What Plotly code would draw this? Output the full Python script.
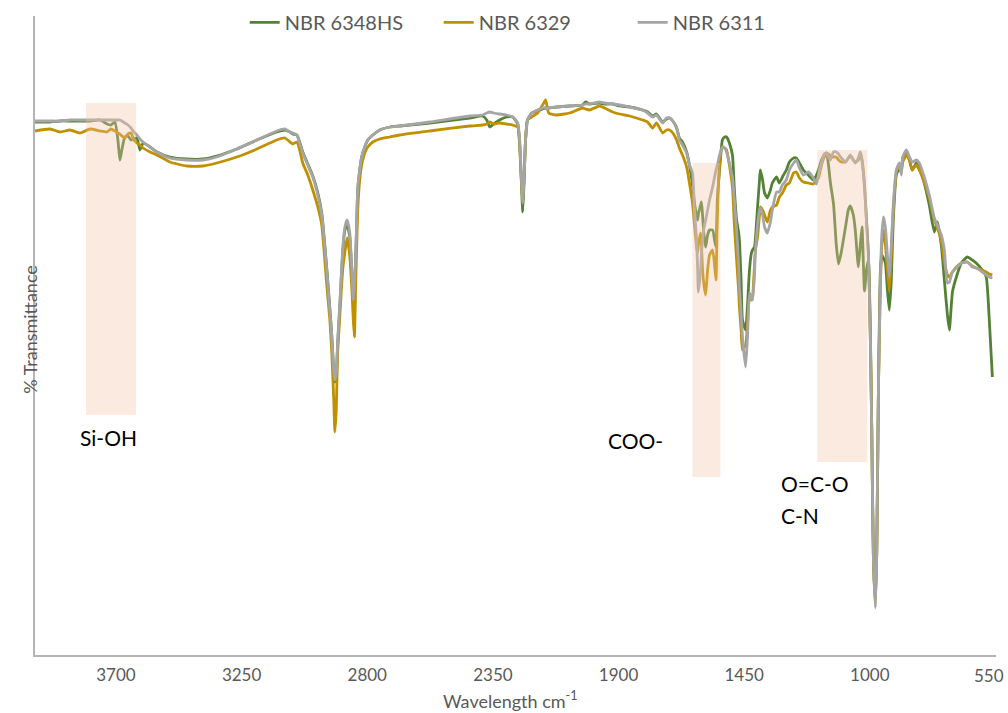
import plotly.graph_objects as go

# Wavenumber grid (cm-1), shared by the three spectra
wavenumber = [
    3990, 3936, 3900, 3865, 3829, 3793, 3757, 3732, 3718, 3704,
    3693, 3686, 3679, 3668, 3657, 3646, 3636, 3625, 3614, 3603,
    3578, 3553, 3507, 3446, 3389, 3339, 3267, 3195, 3124, 3095,
    3077, 3067, 3052, 3042, 3031, 3013, 2995, 2977, 2963, 2945,
    2934, 2927, 2920, 2916, 2911, 2906, 2898, 2888, 2880, 2872,
    2863, 2855, 2850, 2846, 2841, 2834, 2827, 2820, 2809, 2798,
    2780, 2755, 2719, 2684, 2576, 2433, 2387, 2372, 2361, 2347,
    2326, 2301, 2279, 2261, 2254, 2249, 2243, 2238, 2233, 2226,
    2211, 2190, 2172, 2161, 2150, 2122, 2075, 2029, 2018, 2004,
    1968, 1950, 1921, 1896, 1860, 1814, 1796, 1778, 1764, 1742,
    1728, 1717, 1703, 1692, 1682, 1671, 1656, 1646, 1635, 1628,
    1621, 1617, 1614, 1606, 1603, 1599, 1594, 1588, 1581, 1574,
    1563, 1556, 1551, 1546, 1538, 1528, 1520, 1513, 1503, 1492,
    1485, 1477, 1470, 1467, 1461, 1456, 1445, 1438, 1431, 1424,
    1420, 1413, 1410, 1402, 1395, 1392, 1384, 1377, 1367, 1356,
    1349, 1334, 1324, 1313, 1299, 1288, 1273, 1263, 1252, 1238,
    1220, 1202, 1191, 1184, 1173, 1163, 1155, 1148, 1141, 1130,
    1120, 1112, 1102, 1087, 1077, 1070, 1059, 1052, 1041, 1034,
    1028, 1019, 1012, 1005, 998, 993, 987, 980, 975, 969,
    962, 957, 951, 944, 937, 930, 923, 916, 905, 894,
    887, 882, 869, 858, 848, 833, 823, 805, 787, 769,
    758, 744, 733, 722, 715, 704, 690, 672, 651, 633,
    619, 597, 583, 572, 561,
]

# % transmittance, NBR 6348HS
t_6348hs = [
    53.3, 53.3, 53.4, 53.4, 53.4, 53.4, 53.5, 53.1, 53.0, 53.3,
    51.5, 49.5, 50.5, 51.8, 51.9, 51.5, 51.6, 51.7, 50.5, 51.2,
    50.8, 50.3, 49.8, 49.6, 49.6, 49.9, 50.6, 51.5, 52.3, 52.5,
    52.3, 52.1, 52.0, 51.3, 50.3, 49.1, 47.9, 46.2, 44.2, 38.7,
    34.7, 32.0, 28.3, 27.3, 28.0, 31.0, 35.0, 40.3, 42.5, 43.0,
    41.9, 38.0, 35.2, 36.5, 40.0, 46.5, 48.5, 49.8, 50.8, 51.5,
    52.0, 52.5, 52.8, 52.9, 53.2, 53.7, 53.9, 53.5, 52.8, 53.1,
    53.5, 53.8, 53.8, 53.1, 51.0, 48.0, 44.3, 47.5, 51.5, 53.5,
    54.2, 54.4, 54.6, 54.7, 54.7, 54.8, 54.9, 55.0, 55.3, 55.1,
    55.2, 55.1, 55.1, 54.9, 54.8, 54.5, 54.3, 53.9, 54.1, 53.3,
    53.6, 53.7, 53.3, 52.7, 51.7, 51.3, 50.3, 49.0, 47.0, 45.2,
    44.0, 43.5, 44.1, 45.0, 45.3, 44.0, 42.0, 40.8, 42.0, 42.5,
    42.5, 41.5, 40.8, 45.5, 48.5, 51.5, 51.8, 51.8, 51.2, 50.0,
    46.5, 43.5, 42.3, 41.5, 37.5, 33.5, 32.5, 35.0, 38.5, 40.2,
    40.5, 40.8, 41.5, 44.8, 47.5, 48.5, 47.5, 46.2, 45.7, 46.5,
    47.2, 47.8, 47.2, 47.8, 48.5, 49.3, 49.7, 49.7, 49.2, 48.5,
    48.0, 47.5, 48.0, 48.5, 49.5, 50.0, 50.2, 49.0, 47.2, 45.1,
    41.0, 39.1, 40.3, 42.8, 44.5, 44.9, 44.0, 42.5, 38.8, 41.0,
    42.8, 36.4, 38.5, 39.5, 32.5, 22.5, 9.5, 5.5, 10.5, 26.8,
    38.5, 40.0, 39.7, 39.2, 36.5, 34.5, 37.5, 43.5, 48.0, 48.7,
    48.3, 49.7, 50.2, 49.5, 48.5, 49.2, 48.7, 47.2, 45.0, 42.3,
    43.3, 41.0, 37.5, 34.0, 32.5, 36.3, 37.8, 39.2, 39.8, 39.5,
    39.2, 38.5, 37.8, 33.5, 27.8,
]

# % transmittance, NBR 6329
t_6329 = [
    52.4, 52.6, 52.3, 52.5, 52.2, 52.6, 52.4, 52.3, 52.6, 52.4,
    52.2, 52.1, 51.9, 51.7, 52.1, 52.2, 51.5, 51.2, 51.0, 50.7,
    50.3, 50.0, 49.3, 48.9, 48.9, 49.2, 49.8, 50.6, 51.5, 51.7,
    51.3, 51.1, 51.3, 50.5, 49.2, 48.0, 46.5, 44.8, 43.0, 37.0,
    33.5, 30.2, 25.5, 22.3, 24.5, 30.2, 34.0, 38.5, 40.3, 41.7,
    40.0, 36.5, 33.5, 31.8, 37.5, 44.5, 47.5, 49.0, 50.2, 50.8,
    51.3, 51.6, 51.8, 52.0, 52.4, 52.9, 53.0, 53.1, 53.3, 53.1,
    53.2, 53.1, 53.0, 52.8, 51.0, 48.0, 45.2, 48.0, 51.5, 53.5,
    53.8, 54.2, 55.0, 55.5, 54.2, 54.0, 54.2, 54.7, 54.6, 54.5,
    54.9, 54.7, 54.3, 54.1, 53.9, 53.5, 53.3, 52.7, 53.2, 52.2,
    52.5, 52.5, 52.1, 51.5, 50.7, 50.0, 48.8, 47.2, 45.2, 43.0,
    41.0, 40.2, 41.0, 42.2, 41.0, 38.5, 37.0, 36.0, 38.5, 40.0,
    40.5, 39.0, 37.5, 44.0, 49.2, 50.8, 50.7, 50.5, 49.0, 46.8,
    43.0, 39.5, 36.5, 34.8, 32.5, 30.5, 31.0, 33.0, 35.8, 35.5,
    35.8, 39.0, 40.5, 41.8, 44.0, 44.8, 44.5, 44.0, 43.3, 44.5,
    44.8, 45.0, 45.8, 46.2, 47.0, 47.2, 48.2, 48.3, 47.7, 47.3,
    47.2, 47.1, 47.5, 47.7, 49.0, 49.8, 50.0, 50.1, 49.9, 49.8,
    49.8, 49.5, 49.3, 49.3, 49.7, 49.9, 49.5, 49.3, 49.5, 50.2,
    49.5, 47.0, 43.5, 40.1, 31.5, 22.5, 9.5, 5.0, 10.5, 26.8,
    37.0, 41.0, 42.5, 41.0, 38.5, 36.5, 40.0, 44.5, 48.3, 49.0,
    48.7, 49.3, 50.0, 49.5, 48.5, 49.0, 48.5, 47.3, 45.7, 43.5,
    42.7, 41.5, 39.3, 38.0, 37.8, 38.3, 38.8, 39.2, 39.3, 38.9,
    38.7, 38.5, 38.3, 38.1, 38.0,
]

# % transmittance, NBR 6311
t_6311 = [
    53.4, 53.4, 53.4, 53.5, 53.5, 53.5, 53.5, 53.5, 53.5, 53.5,
    53.5, 53.5, 53.4, 53.2, 53.0, 52.7, 52.3, 52.0, 51.6, 51.3,
    50.8, 50.3, 49.7, 49.5, 49.5, 49.8, 50.6, 51.5, 52.4, 52.6,
    52.3, 52.2, 52.0, 51.2, 50.2, 49.0, 47.8, 46.0, 44.0, 38.5,
    34.5, 31.8, 28.5, 27.5, 28.3, 31.5, 35.2, 40.5, 42.8, 43.5,
    42.3, 38.5, 35.5, 37.0, 40.2, 46.8, 48.5, 49.8, 50.8, 51.5,
    52.0, 52.5, 52.8, 52.9, 53.3, 53.9, 54.0, 54.2, 54.3, 54.2,
    54.1, 54.0, 53.8, 53.2, 51.5, 48.5, 45.2, 48.0, 51.5, 53.5,
    54.2, 54.5, 54.7, 54.7, 54.7, 54.8, 54.9, 55.0, 55.1, 55.1,
    55.3, 55.2, 55.1, 55.0, 54.8, 54.5, 54.2, 53.8, 54.0, 53.2,
    53.7, 53.7, 53.3, 52.8, 51.5, 51.0, 50.2, 49.0, 48.2, 44.5,
    41.8, 39.0, 36.3, 38.5, 40.2, 41.5, 42.7, 43.5, 44.5, 45.5,
    46.8, 47.8, 48.5, 49.0, 50.0, 50.8, 50.7, 50.3, 49.2, 47.8,
    45.5, 42.5, 39.0, 36.8, 34.3, 31.8, 28.8, 31.8, 36.2, 35.7,
    35.5, 38.0, 40.2, 43.0, 44.5, 44.7, 44.0, 42.8, 42.2, 43.3,
    44.5, 46.3, 46.3, 47.0, 47.5, 48.5, 49.2, 49.5, 48.7, 48.0,
    48.3, 47.7, 47.1, 48.0, 49.2, 50.1, 50.2, 49.8, 49.5, 50.3,
    50.3, 50.1, 49.7, 49.3, 49.7, 50.0, 49.5, 49.2, 49.7, 50.3,
    49.5, 46.8, 43.5, 40.1, 31.5, 22.5, 9.5, 4.7, 10.5, 26.8,
    37.5, 42.0, 43.8, 42.7, 40.0, 37.8, 41.0, 45.0, 48.5, 49.2,
    48.0, 49.8, 50.5, 49.8, 49.3, 49.5, 49.2, 47.8, 46.0, 43.7,
    43.0, 42.0, 40.5, 37.2, 37.3, 38.3, 38.7, 39.2, 39.3, 38.8,
    38.7, 38.3, 38.0, 37.8, 37.7,
]

assert len(wavenumber) == len(t_6348hs) == len(t_6329) == len(t_6311), (
    len(wavenumber), len(t_6348hs), len(t_6329), len(t_6311))

series_names = ["NBR 6348HS", "NBR 6329", "NBR 6311"]
series_values = [t_6348hs, t_6329, t_6311]
series_colors = ["#548235", "#BF9000", "#A5A5A5"]

tick_values = [3700, 3250, 2800, 2350, 1900, 1450, 1000, 550]

# Highlighted absorption bands: (label, wn_high, wn_low, t_top, t_bottom)
bands = [
    ("Si-OH", 3807, 3628, 55.2, 24.0),
    ("COO-", 1635, 1535, 49.2, 17.8),
    ("O=C-O", 1188, 1009, 50.5, 19.3),
]

FONT = "Lato, 'Open Sans', sans-serif"
GREY_TEXT = "#595959"
TICK_FONT = dict(family=FONT, size=17, color=GREY_TEXT)

fig = go.Figure()
for name, vals, color in zip(series_names, series_values, series_colors):
    fig.add_trace(go.Scatter(
        x=wavenumber, y=vals, name=name, mode="lines",
        line=dict(color=color, width=2.8, shape="spline", smoothing=0.5),
    ))

for label, x0, x1, y0, y1 in bands:
    fig.add_shape(type="rect", xref="x", yref="y", x0=x0, x1=x1, y0=y0, y1=y1,
                  fillcolor="rgb(244,196,164)", opacity=0.35,
                  line=dict(width=0), layer="above")

label_style = dict(showarrow=False, font=dict(family=FONT, size=21, color="#000000"))
fig.add_annotation(x=3728, y=21.8, xref="x", yref="y", text="Si-OH", **label_style)
fig.add_annotation(x=1839, y=21.5, xref="x", yref="y", text="COO-", **label_style)
fig.add_annotation(x=1326, y=17.2, xref="x", yref="y", text="O=C-O",
                   xanchor="left", **label_style)
fig.add_annotation(x=1326, y=14.0, xref="x", yref="y", text="C-N",
                   xanchor="left", **label_style)

# The last tick sits on the right edge of the plot; its label is placed by hand
# so it stays inside the page.
edge_tick = tick_values[-1]
fig.add_annotation(x=edge_tick, y=0, xref="x", yref="y", yanchor="top", yshift=-8,
                   xshift=-6, text=str(edge_tick), showarrow=False, font=TICK_FONT)

# Axis titles
fig.add_annotation(x=0.495, y=-0.071, xref="paper", yref="paper", yanchor="middle",
                   text="Wavelength cm<sup>-1</sup>", showarrow=False,
                   font=dict(family=FONT, size=18, color=GREY_TEXT))
fig.add_annotation(x=-0.019, y=0.51, xref="paper", yref="paper", textangle=-90,
                   text="% Transmittance", showarrow=False,
                   font=dict(family=FONT, size=18, color=GREY_TEXT))

fig.update_xaxes(
    range=[3990, 548], tickvals=tick_values[:-1],
    ticktext=[str(v) for v in tick_values[:-1]],
    showgrid=False, zeroline=False, showline=True, linecolor="#B4B4B4", linewidth=2,
    ticks="", tickfont=TICK_FONT, ticklabelstandoff=4, automargin=False,
)
fig.update_yaxes(
    range=[0, 63.9], showticklabels=False, showgrid=False, zeroline=False,
    showline=True, linecolor="#B4B4B4", linewidth=2, ticks="", automargin=False,
)

fig.update_layout(
    width=1008, height=713,
    margin=dict(l=35, r=12, t=16, b=58, autoexpand=False),
    plot_bgcolor="white", paper_bgcolor="white",
    showlegend=True,
    legend=dict(orientation="h", x=0.521, xanchor="center", y=0.99, yanchor="middle",
                font=dict(family=FONT, size=20, color=GREY_TEXT),
                itemwidth=30, entrywidth=149, bgcolor="rgba(0,0,0,0)"),
)

fig.write_html("out.html")
